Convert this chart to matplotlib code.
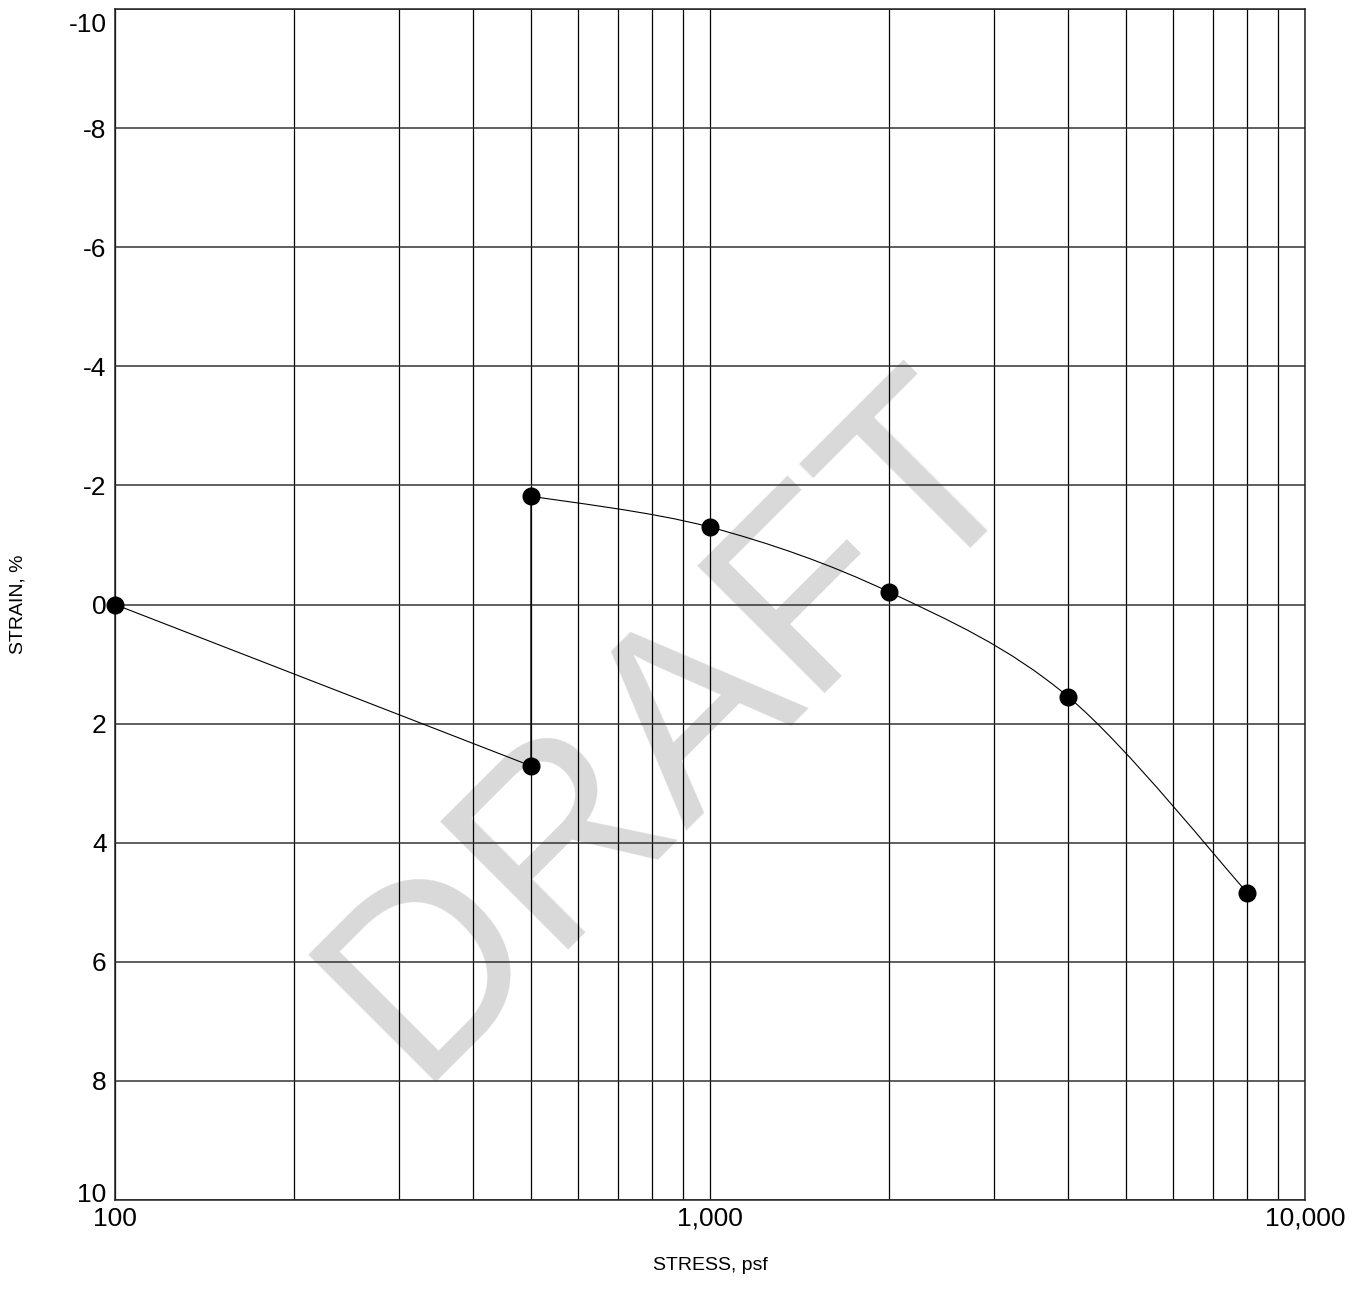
import numpy as np
import matplotlib
matplotlib.use("Agg")
import matplotlib.pyplot as plt
from matplotlib.path import Path
from matplotlib.patches import PathPatch
from matplotlib.ticker import FixedLocator, NullFormatter
from matplotlib.transforms import ScaledTranslation

plt.rcParams['font.family'] = ['Liberation Sans', 'DejaVu Sans']

# readings
stress = [100, 500, 500, 1000, 2000, 4000, 8000]
strain = [0.0, 2.71, -1.82, -1.30, -0.21, 1.55, 4.84]
n_straight = 3          # first points joined by straight segments, rest smoothed

x_major = [100, 1000, 10000]
x_major_labels = ['100', '1,000', '10,000']
x_minor = [200, 300, 400, 500, 600, 700, 800, 900,
           2000, 3000, 4000, 5000, 6000, 7000, 8000, 9000]
y_ticks = [-10, -8, -6, -4, -2, 0, 2, 4, 6, 8, 10]


def smooth_path(xs, ys):
    # catmull-rom through the points, built as cubic bezier in log-x space
    lx = np.log10(xs)
    ys = np.asarray(ys, float)
    P = np.column_stack([lx, ys])
    n = len(P)
    verts = [P[0]]
    codes = [Path.MOVETO]
    for i in range(n - 1):
        p0 = P[i - 1] if i > 0 else P[i]
        p1 = P[i]
        p2 = P[i + 1]
        p3 = P[i + 2] if i + 2 < n else P[i + 1]
        c1 = p1 + (p2 - p0) / 6.0
        c2 = p2 - (p3 - p1) / 6.0
        verts += [c1, c2, p2]
        codes += [Path.CURVE4] * 3
    verts = np.array(verts)
    verts[:, 0] = 10 ** verts[:, 0]
    return Path(verts, codes)


fig = plt.figure(figsize=(13.62, 13.01), dpi=100)
ax = fig.add_axes([115 / 1362, 1 - 1200 / 1301, 1190 / 1362, 1191 / 1301])

ax.set_xscale('log')
ax.set_xlim(100, 10000)
ax.set_ylim(10, -10)

ax.xaxis.set_major_locator(FixedLocator(x_major))
ax.set_xticklabels(x_major_labels)
ax.xaxis.set_minor_locator(FixedLocator(x_minor))
ax.xaxis.set_minor_formatter(NullFormatter())
ax.set_yticks(y_ticks)
ax.set_yticklabels([str(v) for v in y_ticks])
ax.tick_params(which='both', length=0, labelsize=19)
ax.tick_params(axis='x', pad=5)
ax.tick_params(axis='y', pad=6)

# end labels on the y axis sit inside the frame, like the original
ylabs = ax.get_yticklabels()
ylabs[0].set_transform(ylabs[0].get_transform() + ScaledTranslation(0, -0.13, fig.dpi_scale_trans))
ylabs[-1].set_transform(ylabs[-1].get_transform() + ScaledTranslation(0, 0.08, fig.dpi_scale_trans))

ax.grid(axis='x', which='both', color='black', lw=0.9)
ax.grid(axis='y', which='major', color='#333333', lw=1.1)
for s in ax.spines.values():
    s.set_color('#222222')
    s.set_linewidth(1.1)

# watermark
fig.text(674 / 1362, 1 - 726 / 1301, 'DRAFT', fontsize=188, color='#d9d9d9',
         rotation=45, rotation_mode='anchor', ha='center', va='center', zorder=-1)
ax.set_facecolor('none')

# data
ax.plot(stress[:n_straight], strain[:n_straight], color='black', lw=0.8, zorder=3)
patch = PathPatch(smooth_path(stress[n_straight - 1:], strain[n_straight - 1:]),
                  facecolor='none', edgecolor='black', lw=0.8, zorder=3)
ax.add_patch(patch)
ax.plot(stress, strain, 'o', color='black', markersize=12, zorder=4, clip_on=False)

fig.text(710 / 1362, 1 - 1265 / 1301, 'STRESS, psf', fontsize=14, ha='center', va='center')
fig.text(18 / 1362, 1 - 604 / 1301, 'STRAIN, %', fontsize=14, ha='center', va='center',
         rotation=90)

fig.savefig('out.png', dpi=100)
